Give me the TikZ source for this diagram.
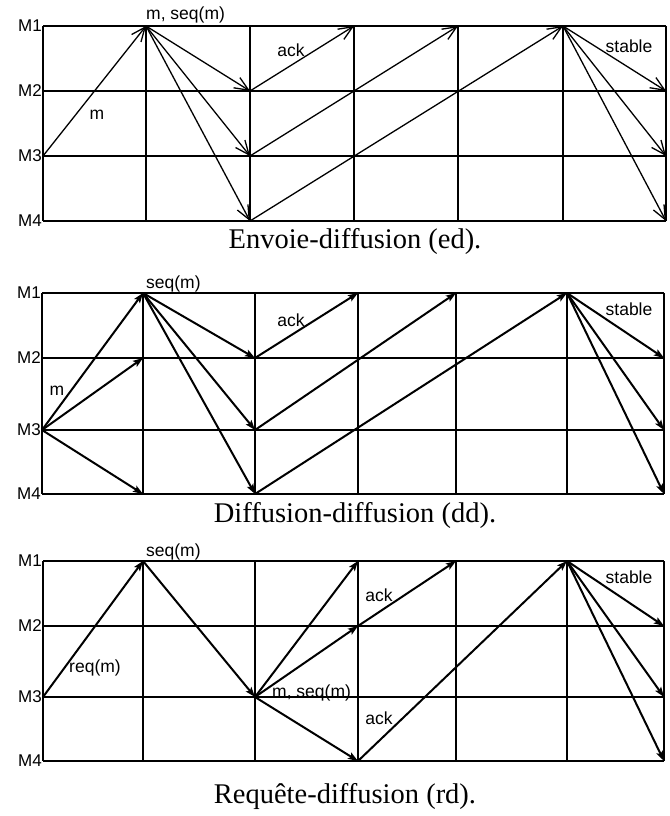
\documentclass[tikz,border=0pt]{standalone}
\usepackage{fontspec}
\setmainfont{Liberation Serif}
\setsansfont{Liberation Sans}
\usetikzlibrary{arrows.meta}
\begin{document}
\begin{tikzpicture}[x=1pt,y=-1pt,
  lab/.style={font=\sffamily\fontsize{17.5}{17.5}\selectfont, inner sep=0pt},
  rowlab/.style={font=\sffamily\fontsize{17}{17}\selectfont, anchor=east, inner sep=1pt},
  captext/.style={font=\fontsize{28.5}{28.5}\selectfont, inner sep=0pt},
  gridA/.style={line width=1.3pt},
  gridB/.style={line width=2pt},
  msgA/.style={line width=1.3pt, -{Straight Barb[length=14pt,width=12pt]}},
  msgB/.style={line width=2pt, -{Stealth[length=10pt,width=7pt,inset=2pt]}}
]
\useasboundingbox (0,0) rectangle (669,816);

% ---------- coordinates ----------
\foreach \c/\x in {0/43,1/146,2/250,3/354,4/458,5/563,6/666}{
  \foreach \r/\y in {1/26,2/91,3/156,4/221}{
    \coordinate (a\r\c) at (\x,\y);
  }
}
\foreach \c/\x in {0/42,1/143,2/255,3/358,4/456,5/567,6/664}{
  \foreach \r/\y in {1/293,2/358,3/430,4/494}{
    \coordinate (b\r\c) at (\x,\y);
  }
}
\foreach \c/\x in {0/43,1/143,2/255,3/358,4/456,5/567,6/664}{
  \foreach \r/\y in {1/561,2/626,3/697,4/761}{
    \coordinate (c\r\c) at (\x,\y);
  }
}

% ---------- grids ----------
\foreach \r in {1,...,4}{
  \draw[gridA] (a\r0) -- (a\r6);
  \draw[gridB] (b\r0) -- (b\r6);
  \draw[gridB] (c\r0) -- (c\r6);
}
\foreach \c in {0,...,6}{
  \draw[gridA] (a1\c) -- (a4\c);
  \draw[gridB] (b1\c) -- (b4\c);
  \draw[gridB] (c1\c) -- (c4\c);
}

% ---------- row labels ----------
\foreach \r in {1,...,4}{
  \node[rowlab] (aM\r) at (a\r0) {M\r};
  \node[rowlab] (bM\r) at (b\r0) {M\r};
  \node[rowlab] (cM\r) at (c\r0) {M\r};
}

% ---------- diagram 1: ed ----------
\draw[msgA] (a30) -- (a11);
\draw[msgA] (a11) -- (a22);
\draw[msgA] (a11) -- (a32);
\draw[msgA] (a11) -- (a42);
\draw[msgA] (a22) -- (a13);
\draw[msgA] (a32) -- (a14);
\draw[msgA] (a42) -- (a15);
\draw[msgA] (a15) -- (a26);
\draw[msgA] (a15) -- (a36);
\draw[msgA] (a15) -- (a46);
\node[lab] (am) at (97,115) {m};
\node[lab, anchor=west] (amseq) at (146,15) {m, seq(m)};
\node[lab] (aack) at (291,50) {ack};
\node[lab] (astable) at (629,46) {stable};
\node[captext] (acap) at (355,241) {Envoie-diffusion (ed).};

% ---------- diagram 2: dd ----------
\draw[msgB] (b30) -- (b11);
\draw[msgB] (b30) -- (b21);
\draw[msgB] (b30) -- (b41);
\draw[msgB] (b11) -- (b22);
\draw[msgB] (b11) -- (b32);
\draw[msgB] (b11) -- (b42);
\draw[msgB] (b22) -- (b13);
\draw[msgB] (b32) -- (b14);
\draw[msgB] (b42) -- (b15);
\draw[msgB] (b15) -- (b26);
\draw[msgB] (b15) -- (b36);
\draw[msgB] (b15) -- (b46);
\node[lab] (bm) at (57,391) {m};
\node[lab, anchor=west] (bseq) at (146,284) {seq(m)};
\node[lab] (back) at (291,320) {ack};
\node[lab] (bstable) at (629,309) {stable};
\node[captext] (bcap) at (355,515) {Diffusion-diffusion (dd).};

% ---------- diagram 3: rd ----------
\draw[msgB] (c30) -- (c11);
\draw[msgB] (c11) -- (c32);
\draw[msgB] (c32) -- (c13);
\draw[msgB] (c32) -- (c23);
\draw[msgB] (c32) -- (c43);
\draw[msgB] (c23) -- (c14);
\draw[msgB] (c43) -- (c15);
\draw[msgB] (c15) -- (c26);
\draw[msgB] (c15) -- (c36);
\draw[msgB] (c15) -- (c46);
\node[lab] (creq) at (95,668) {req(m)};
\node[lab, anchor=west] (cseq) at (146,552) {seq(m)};
\node[lab, anchor=west] (cmseq) at (272,693) {m, seq(m)};
\node[lab] (cack1) at (379,595) {ack};
\node[lab] (cack2) at (379,718) {ack};
\node[lab] (cstable) at (629,577) {stable};
\node[captext] (ccap) at (345,796) {Requête-diffusion (rd).};
\end{tikzpicture}
\end{document}
